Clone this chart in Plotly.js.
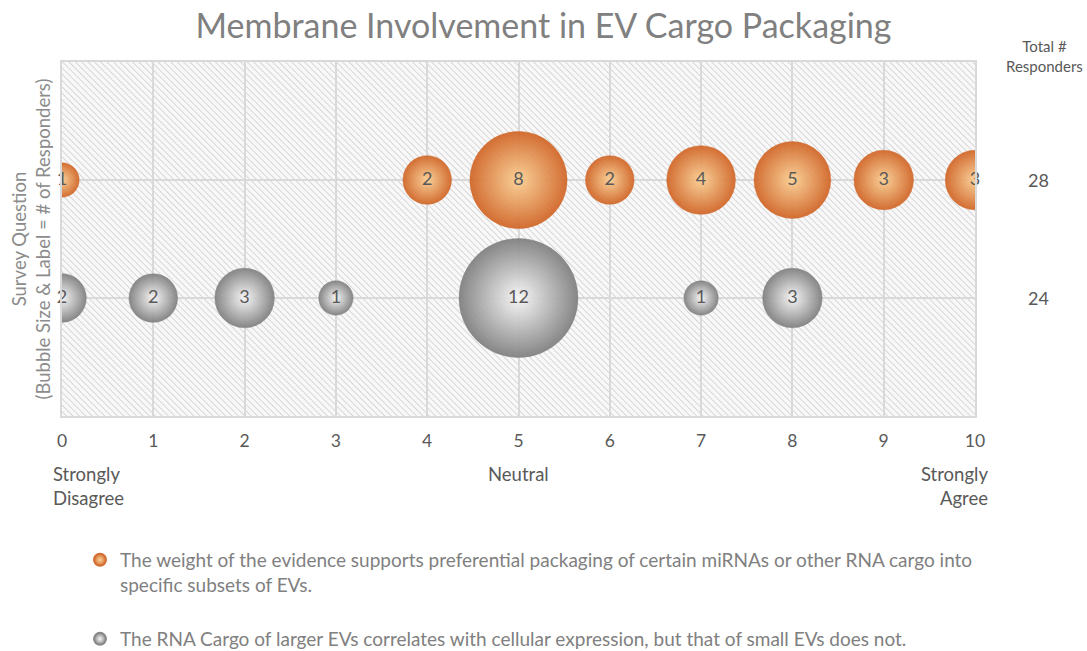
<!DOCTYPE html>
<html>
<head>
<meta charset="utf-8">
<script src="https://cdn.plot.ly/plotly-3.0.1.min.js"></script>
<style>html,body{margin:0;padding:0;background:#fff;}#chart{width:1087px;height:651px;}</style>
</head>
<body>
<div id="chart"></div>
<script>
// ---- data ----
const seriesNames = [
  "The weight of the evidence supports preferential packaging of certain miRNAs or other RNA cargo into<br>specific subsets of EVs.",
  "The RNA Cargo of larger EVs correlates with cellular expression, but that of small EVs does not."
];
const orangeX = [0, 4, 5, 6, 7, 8, 9, 10];
const orangeN = [1, 2, 8, 2, 4, 5, 3, 3];
const grayX = [0, 1, 2, 3, 5, 7, 8];
const grayN = [2, 2, 3, 1, 12, 1, 3];
const rowY = [2, 1]; // row position of each question
const xTicks = [0,1,2,3,4,5,6,7,8,9,10];
const scaleLabels = [
  {x: 0, text: "Strongly<br>Disagree"},
  {x: 5, text: "Neutral"},
  {x: 10, text: "Strongly<br>Agree"}
];

const FONT = "Lato, 'Open Sans', sans-serif";
const maxN = Math.max(...orangeN, ...grayN);
const maxDiam = 119;
const sizeref = 2 * maxN / (maxDiam * maxDiam);
const sum = a => a.reduce((s, v) => s + v, 0);

function bubble(xs, ns, y, name, edge, center, legendId) {
  return {
    type: 'scatter', mode: 'markers', name: name,
    x: xs, y: xs.map(() => y),
    legend: legendId,
    cliponaxis: true,
    hoverinfo: 'x+text', text: ns.map(String),
    marker: {
      size: ns, sizemode: 'area', sizeref: sizeref,
      color: edge, opacity: 0.93,
      gradient: {type: 'radial', color: center},
      line: {width: 0.5, color: edge}
    }
  };
}
function labels(xs, ns, y) {
  return {
    type: 'scatter', mode: 'text', showlegend: false, hoverinfo: 'skip',
    x: xs, y: xs.map(() => y), text: ns.map(String),
    cliponaxis: false,
    textposition: 'middle center',
    textfont: {family: FONT, size: 18, color: '#595959'}
  };
}

const traces = [
  bubble(orangeX, orangeN, rowY[0], seriesNames[0], '#d16526', '#fbcf92', 'legend'),
  bubble(grayX, grayN, rowY[1], seriesNames[1], '#7f7f7f', '#f7f7f7', 'legend2'),
  labels(orangeX, orangeN, rowY[0]),
  labels(grayX, grayN, rowY[1])
];

const hatch = "<svg xmlns='http://www.w3.org/2000/svg' width='913' height='354'>" +
  "<defs><pattern id='p' width='4.5' height='4.5' patternUnits='userSpaceOnUse' patternTransform='rotate(-45)'>" +
  "<rect width='4.5' height='4.5' fill='#f8f8f8'/><line x1='0' y1='0' x2='0' y2='4.5' stroke='#d0d0d0' stroke-width='1.6'/>" +
  "</pattern></defs><rect width='913' height='354' fill='url(#p)'/></svg>";

const annotations = [
  {xref: 'paper', yref: 'paper', x: -0.0345, y: 0.5, xanchor: 'center', yanchor: 'middle',
   textangle: -90, showarrow: false,
   text: "Survey Question<br>(Bubble Size & Label = # of Responders)",
   font: {family: FONT, size: 18.5, color: '#8c8c8c'}},
  {xref: 'paper', yref: 'paper', x: 1.0765, y: 1.017, xanchor: 'center', yanchor: 'middle', showarrow: false,
   text: "Total #<br>Responders", font: {family: FONT, size: 15, color: '#595959'}},
  {xref: 'paper', yref: 'y', x: 1.07, y: rowY[0], xanchor: 'center', showarrow: false,
   text: String(sum(orangeN)), font: {family: FONT, size: 18, color: '#595959'}},
  {xref: 'paper', yref: 'y', x: 1.07, y: rowY[1], xanchor: 'center', showarrow: false,
   text: String(sum(grayN)), font: {family: FONT, size: 18, color: '#595959'}}
];
scaleLabels.forEach((s, i) => {
  const last = i === scaleLabels.length - 1;
  annotations.push({
    xref: 'x', yref: 'paper', x: s.x, y: -0.128, yanchor: 'top', showarrow: false,
    xanchor: i === 0 ? 'left' : (last ? 'right' : 'center'),
    align: i === 0 ? 'left' : (last ? 'right' : 'center'),
    xshift: i === 0 ? -11 : (last ? 15 : 0),
    text: s.text, font: {family: FONT, size: 18.5, color: '#595959'}
  });
});

const legendBase = {orientation: 'v', xanchor: 'left', yanchor: 'top', x: 0.0197, valign: 'top',
                    itemsizing: 'constant', itemwidth: 30,
                    font: {family: FONT, size: 19, color: '#808080'}, bgcolor: 'rgba(0,0,0,0)'};
const legend2Top = 620; // px from top of the figure
const figH = 651;

const layout = {
  width: 1087, height: figH,
  margin: {l: 62, r: 112, t: 62, b: 235},
  paper_bgcolor: '#ffffff',
  plot_bgcolor: 'rgba(0,0,0,0)',
  title: {text: "Membrane Involvement in EV Cargo Packaging", x: 0.5, xref: 'container', xanchor: 'center',
          y: 0.978, yref: 'container',
          font: {family: FONT, size: 34, color: '#808080'}},
  xaxis: {range: [0, 10], tickvals: xTicks, ticktext: xTicks.map(String), showgrid: true,
          gridcolor: '#d9d9d9', gridwidth: 2, zeroline: false, showline: true, linecolor: '#d9d9d9',
          linewidth: 2, mirror: true, ticks: '', ticklabelstandoff: 8,
          tickfont: {family: FONT, size: 17.5, color: '#595959'}, fixedrange: true},
  yaxis: {range: [0, 3], dtick: 1, tick0: 0, showgrid: true, gridcolor: '#d9d9d9', gridwidth: 2,
          zeroline: false, showline: true, linecolor: '#d9d9d9', linewidth: 2, mirror: true,
          showticklabels: false, ticks: '', fixedrange: true},
  images: [{source: 'data:image/svg+xml;utf8,' + encodeURIComponent(hatch), xref: 'paper', yref: 'paper',
            x: 0, y: 1, sizex: 1, sizey: 1, sizing: 'stretch', xanchor: 'left', yanchor: 'top', layer: 'below'}],
  showlegend: true,
  legend: Object.assign({}, legendBase, {y: -0.353}),
  legend2: Object.assign({}, legendBase, {yref: 'container', y: 1 - legend2Top / figH}),
  annotations: annotations
};

Plotly.newPlot('chart', traces, layout, {displayModeBar: false, staticPlot: true});
</script>
</body>
</html>
